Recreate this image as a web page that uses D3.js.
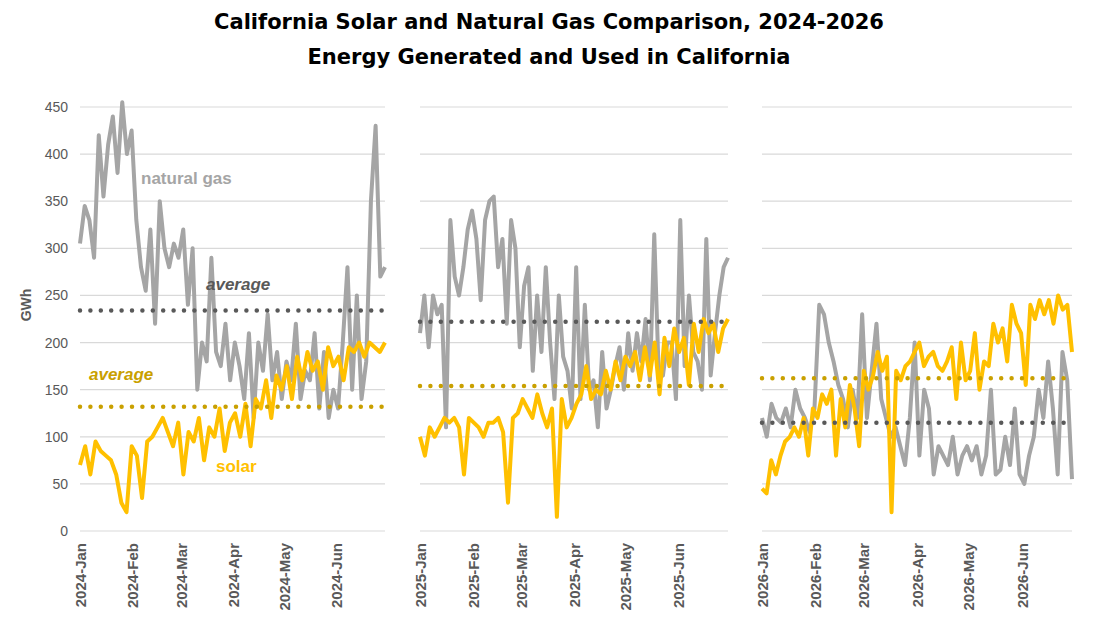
<!DOCTYPE html>
<html><head><meta charset="utf-8">
<script src="https://cdn.jsdelivr.net/npm/d3@7"></script>
<style>body{margin:0;background:#fff;font-family:"Liberation Sans",Arial,sans-serif;}</style>
</head><body><svg id="c" width="1102" height="629"></svg>
<script>
const years = [2024, 2025, 2026];
const monthLabels = ["Jan","Feb","Mar","Apr","May","Jun"];
const yTicks = [0,50,100,150,200,250,300,350,400,450];
const gas2024 = [305,345,330,290,420,355,410,440,380,455,400,425,330,280,255,320,220,350,300,280,305,290,320,240,300,150,200,180,290,190,175,220,160,200,175,140,210,120,200,170,230,160,190,140,180,160,220,140,170,160,210,130,190,120,150,130,200,280,150,250,140,180,350,430,270,280];
const solar2024 = [70,90,60,95,85,80,75,60,30,20,90,80,35,95,100,110,120,105,90,115,60,105,95,120,75,110,100,130,85,115,125,100,135,90,140,130,160,120,165,150,175,140,185,160,190,170,180,150,195,175,185,160,195,190,200,185,200,195,190,200];
const gas2025 = [210,250,195,250,230,240,110,330,270,250,280,320,340,310,245,330,350,355,280,310,220,330,300,195,260,280,170,250,190,280,200,140,250,185,170,130,280,140,240,150,160,110,190,130,150,175,195,150,210,170,210,180,225,160,315,170,165,200,200,140,330,175,250,190,180,150,310,165,210,250,280,290];
const solar2025 = [100,80,110,100,110,120,115,120,110,60,120,115,110,100,115,115,120,105,30,120,125,140,130,120,145,125,110,130,15,140,110,120,135,145,175,140,150,145,170,150,180,160,185,175,190,160,195,165,200,145,205,175,215,190,205,155,220,190,225,210,220,190,215,225];
const gas2026 = [120,100,135,120,115,130,110,150,130,120,105,130,240,230,200,180,155,140,110,150,120,230,120,170,220,140,120,100,110,90,70,120,200,80,150,130,60,90,80,70,100,60,80,90,75,90,60,80,150,60,65,100,70,130,60,50,80,100,150,120,180,130,60,190,160,55];
const solar2026 = [45,40,75,60,80,95,100,110,100,120,80,130,120,145,135,150,80,140,110,155,130,90,170,150,165,190,170,185,20,170,160,175,180,190,200,175,185,190,175,170,180,195,140,200,160,170,210,150,180,175,220,200,215,180,240,220,210,155,240,225,245,230,245,220,250,235,240,190];
const gasAvg = [234, 222, 115];
const solarAvg = [132, 154, 162];

const gasData=[gas2024,gas2025,gas2026], solarData=[solar2024,solar2025,solar2026];
const panels=[[80,385],[420,728],[762,1072]];
const svg=d3.select("#c");
const y=d3.scaleLinear().domain([0,450]).range([531,107]);
const C={gas:"#a5a5a5",solar:"#ffc000",gavg:"#595959",savg:"#c9a000",grid:"#d9d9d9",txt:"#595959"};

svg.append("text").attr("x",549).attr("y",29).attr("text-anchor","middle").attr("font-size",21).attr("font-weight","bold").attr("font-family","DejaVu Sans").text("California Solar and Natural Gas Comparison, 2024-2026");
svg.append("text").attr("x",549).attr("y",64).attr("text-anchor","middle").attr("font-size",21).attr("font-weight","bold").attr("font-family","DejaVu Sans").text("Energy Generated and Used in California");

svg.append("g").attr("transform","translate(68,0)").call(d3.axisLeft(y).tickValues(yTicks).tickSize(0).tickPadding(0))
 .call(g=>{g.select(".domain").remove();g.selectAll("text").attr("font-size",14).attr("fill",C.txt).attr("font-family","Liberation Sans, Arial");});
svg.append("text").attr("transform","translate(31,305) rotate(-90)").attr("text-anchor","middle").attr("font-size",14).attr("font-weight","bold").attr("fill",C.txt).text("GWh");

years.forEach((yr,i)=>{
  const [x0,x1]=panels[i];
  const start=new Date(yr,0,1), end=new Date(yr,5,30);
  const x=d3.scaleTime().domain([start,end]).range([x0,x1]);
  const g=svg.append("g");
  g.selectAll("line.gr").data(yTicks).join("line").attr("x1",x0).attr("x2",x1).attr("y1",d=>y(d)).attr("y2",d=>y(d)).attr("stroke",C.grid).attr("stroke-width",1.2);
  const months=monthLabels.map((m,k)=>new Date(yr,k,1));
  g.append("g").attr("transform","translate(0,543)").call(d3.axisBottom(x).tickValues(months).tickSize(0).tickFormat((d,k)=>yr+"-"+monthLabels[k]))
   .call(a=>{a.select(".domain").remove();a.selectAll("text").attr("transform","rotate(-90)").attr("text-anchor","end").attr("dx",0).attr("dy","0.35em").attr("x",0).attr("y",0).attr("font-size",15).attr("font-weight","bold").attr("fill",C.txt).attr("font-family","Liberation Sans, Arial");});
  const line=(arr)=>{const t=d3.scaleLinear().domain([0,arr.length-1]).range([start,end]);return d3.line().x((d,k)=>x(t(k))).y(d=>y(d))(arr);};
  g.append("path").attr("d",line(gasData[i])).attr("fill","none").attr("stroke",C.gas).attr("stroke-width",4).attr("stroke-linejoin","round");
  g.append("path").attr("d",line(solarData[i])).attr("fill","none").attr("stroke",C.solar).attr("stroke-width",4).attr("stroke-linejoin","round");
  [[gasAvg[i],C.gavg],[solarAvg[i],C.savg]].forEach(([v,c])=>{
    g.append("line").attr("x1",x0).attr("x2",x1).attr("y1",y(v)).attr("y2",y(v)).attr("stroke",c).attr("stroke-width",4.5).attr("stroke-linecap","round").attr("stroke-dasharray","0 10.4");
  });
});
const ann=[["natural gas",141,184,"#a5a5a5",false],["average",206,290,"#595959",true],["average",89,380,"#c9a000",true],["solar",216,472,"#ffc000",false]];
ann.forEach(([t,xx,yy,c,it])=>svg.append("text").attr("x",xx).attr("y",yy).attr("font-size",17).attr("font-weight","bold").attr("font-style",it?"italic":"normal").attr("fill",c).text(t));
</script></body></html>
